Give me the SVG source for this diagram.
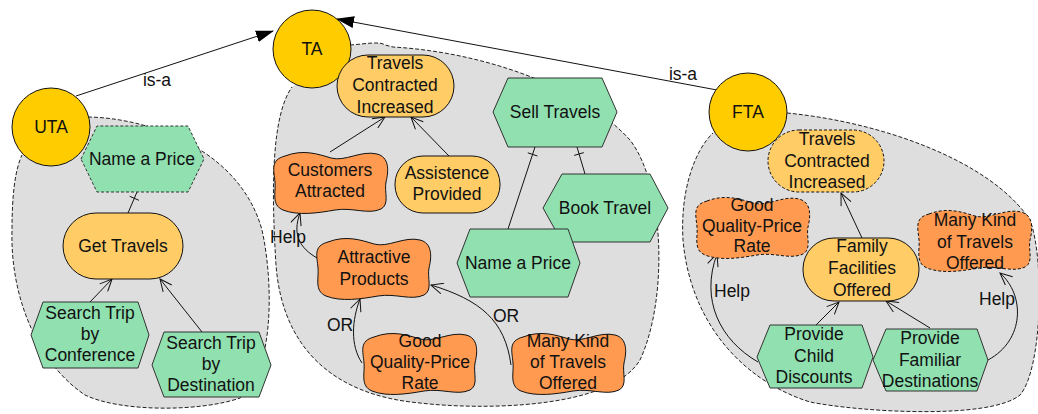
<svg xmlns="http://www.w3.org/2000/svg" width="1038" height="414" viewBox="0 0 1038 414">
<style>
text{font-family:"Liberation Sans",Arial,sans-serif;font-size:17.5px;fill:#111;text-anchor:middle}
.blob{fill:#dedede;stroke:#222;stroke-width:1;stroke-dasharray:4,2}
.actor{fill:#ffcc00;stroke:#111;stroke-width:1}
.goal{fill:#ffcc66;stroke:#111;stroke-width:1}
.soft{fill:#ff9a50;stroke:#111;stroke-width:1}
.task{fill:#90e0b0;stroke:#333;stroke-width:1}
.dash{stroke-dasharray:3,2}
.link{fill:none;stroke:#111;stroke-width:1}
.open{marker-end:url(#open)}
.isa{marker-end:url(#tri)}
</style>
<defs>
<marker id="open" viewBox="0 0 14 12" refX="13" refY="6" markerWidth="14" markerHeight="12" markerUnits="userSpaceOnUse" orient="auto">
<path d="M1,0.5 L13,6 L1,11.5" fill="none" stroke="#111" stroke-width="1"/>
</marker>
<marker id="tri" viewBox="0 0 18 12" refX="17" refY="6" markerWidth="18" markerHeight="12" markerUnits="userSpaceOnUse" orient="auto">
<path d="M0,0 L18,6 L0,12 Z" fill="#000"/>
</marker>
<path id="cloud" d="M12,4 C30,-3 45,2 58,6 C72,10 88,-2 104,2 C116,5 116,18 113,30 C111,40 117,52 108,57 C95,63 80,55 62,58 C45,61 25,64 10,58 C-2,53 3,40 2,30 C1,18 -3,8 12,4 Z"/>
</defs>

<g id="boundaries">
<path class="blob" d="M88,117 C150,118 240,150 262,230 C275,290 272,375 240,398 C200,412 120,412 85,395 C40,365 10,300 12,230 C12,195 15,170 22,155"/>
<path class="blob" d="M350,45 C365,44 380,41 385,45 L393,47 C480,52 580,85 630,140 C665,185 668,300 640,360 C610,410 480,410 420,403 C330,395 282,345 276,265 C271,185 272,115 292,87"/>
<path class="blob" d="M787,113 C880,122 990,160 1030,220 C1045,260 1042,370 1020,395 C990,420 860,412 810,402 C740,380 690,320 683,240 C680,190 695,150 713,133"/>
</g>

<g id="connectors">
<path class="link isa" d="M76,96 L273,31"/>
<path class="link isa" d="M717,90 L337,19"/>
<path class="link" d="M137,192 L128,213 M129.7,196.3 L138.9,200.3"/>
<path class="link open" d="M90,302 L112,279"/>
<path class="link open" d="M202,332 L160,279"/>
<path class="link open" d="M330,152 L385,117"/>
<path class="link open" d="M449,156 L411,117"/>
<path class="link" d="M535,147 L508,229 M527.8,152.8 L537.4,156"/>
<path class="link" d="M577,147 L585,174 M574.2,155.4 L583.8,152.6"/>
<path class="link open" d="M317,258 C300,248 292,235 300,213"/>
<path class="link open" d="M362,363 C350,345 352,320 360,299"/>
<path class="link open" d="M511,365 C505,320 480,300 431,285"/>
<path class="link open" d="M862,238 L841,193"/>
<path class="link open" d="M815,326 L839,302"/>
<path class="link open" d="M930,328 L886,301"/>
<path class="link open" d="M758,362 C720,340 700,300 717,254"/>
<path class="link open" d="M988,360 C1025,340 1025,295 1000,273"/>
<text x="157" y="86">is-a</text>
<text x="683" y="80">is-a</text>
<text x="288" y="243">Help</text>
<text x="340" y="331">OR</text>
<text x="506" y="322">OR</text>
<text x="732" y="297">Help</text>
<text x="997" y="305">Help</text>
</g>

<g id="UTA"><circle class="actor" cx="51" cy="127" r="39"/><text x="51" y="133">UTA</text></g>
<g id="TA"><circle class="actor" cx="312" cy="49" r="39"/><text x="312" y="55">TA</text></g>
<g id="FTA"><circle class="actor" cx="748" cy="112" r="39"/><text x="748" y="118">FTA</text></g>

<g id="uta-name-a-price"><polygon class="task dash" points="81,159 97,126 188,126 204,159 188,192 97,192"/><text x="142" y="165">Name a Price</text></g>
<g id="uta-get-travels"><rect class="goal" x="63" y="213" width="120" height="66" rx="33"/><text x="123" y="252">Get Travels</text></g>
<g id="uta-search-conf"><polygon class="task" points="31,335 43,302 138,302 149,335 138,368 43,368"/><text x="90" y="319">Search Trip</text><text x="90" y="340">by</text><text x="90" y="361">Conference</text></g>
<g id="uta-search-dest"><polygon class="task" points="152,365 164,332 259,332 271,365 259,397 164,397"/><text x="211" y="349">Search Trip</text><text x="211" y="370">by</text><text x="211" y="391">Destination</text></g>

<g id="ta-tci"><rect class="goal" x="337" y="55" width="117" height="62" rx="31"/><text x="395" y="69">Travels</text><text x="395" y="91">Contracted</text><text x="395" y="113">Increased</text></g>
<g id="ta-customers"><use href="#cloud" class="soft" x="273" y="152"/><text x="330" y="176">Customers</text><text x="330" y="197">Attracted</text></g>
<g id="ta-assistence"><rect class="goal" x="395" y="156" width="105" height="57" rx="28"/><text x="447" y="179">Assistence</text><text x="447" y="200">Provided</text></g>
<g id="ta-sell"><polygon class="task" points="493,112 508,78 602,78 617,112 602,147 508,147"/><text x="555" y="118">Sell Travels</text></g>
<g id="ta-book"><polygon class="task" points="543,208 562,174 650,174 668,208 650,242 562,242"/><text x="605" y="214">Book Travel</text></g>
<g id="ta-name-a-price"><polygon class="task" points="457,263 470,229 568,229 580,263 568,297 470,297"/><text x="518" y="269">Name a Price</text></g>
<g id="ta-attractive"><use href="#cloud" class="soft" x="316" y="238"/><text x="374" y="263">Attractive</text><text x="374" y="285">Products</text></g>
<g id="ta-good-qpr"><use href="#cloud" class="soft" x="362" y="333"/><text x="420" y="347">Good</text><text x="420" y="368">Quality-Price</text><text x="420" y="389">Rate</text></g>
<g id="ta-many-kind"><use href="#cloud" class="soft" x="511" y="333"/><text x="568" y="347">Many Kind</text><text x="568" y="368">of Travels</text><text x="568" y="389">Offered</text></g>

<g id="fta-tci"><rect class="goal dash" x="768" y="130" width="116" height="62" rx="31"/><text x="827" y="145">Travels</text><text x="827" y="167">Contracted</text><text x="827" y="188">Increased</text></g>
<g id="fta-good-qpr"><use href="#cloud" class="soft dash" x="695" y="197"/><text x="752" y="211">Good</text><text x="752" y="232">Quality-Price</text><text x="752" y="252">Rate</text></g>
<g id="fta-family"><rect class="goal" x="803" y="238" width="116" height="63" rx="31"/><text x="862" y="252">Family</text><text x="862" y="274">Facilities</text><text x="862" y="296">Offered</text></g>
<g id="fta-many-kind"><use href="#cloud" class="soft dash" x="917" y="210"/><text x="975" y="226">Many Kind</text><text x="975" y="248">of Travels</text><text x="975" y="269">Offered</text></g>
<g id="fta-child"><polygon class="task" points="757,357 770,325 862,325 873,357 862,388 770,388"/><text x="814" y="340">Provide</text><text x="814" y="362">Child</text><text x="814" y="383">Discounts</text></g>
<g id="fta-familiar"><polygon class="task" points="873,360 886,329 977,329 988,360 977,391 886,391"/><text x="930" y="344">Provide</text><text x="930" y="366">Familiar</text><text x="930" y="387">Destinations</text></g>
</svg>
